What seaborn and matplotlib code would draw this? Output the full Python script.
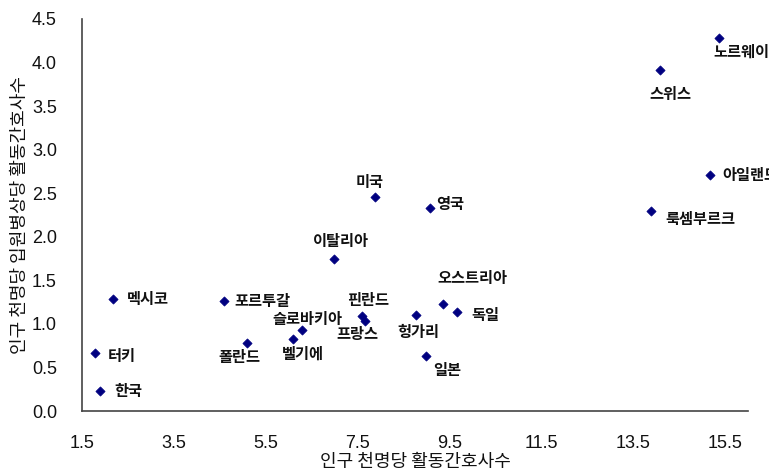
import pandas as pd
import seaborn as sns
import matplotlib.pyplot as plt

# --- data ---
countries = ['노르웨이', '스위스', '아일랜드', '룩셈부르크', '미국', '영국', '이탈리아',
             '오스트리아', '독일', '헝가리', '핀란드', '프랑스', '일본', '슬로바키아',
             '벨기에', '멕시코', '포르투갈', '폴란드', '터키', '한국']
nurses_per_1000 = [15.37, 14.09, 15.17, 13.89, 7.87, 9.07, 6.98,
                   9.37, 9.67, 8.78, 7.59, 7.67, 8.98, 6.30,
                   6.09, 2.17, 4.59, 5.09, 1.78, 1.89]
nurses_per_bed = [4.28, 3.91, 2.71, 2.29, 2.46, 2.33, 1.75,
                  1.23, 1.14, 1.10, 1.09, 1.03, 0.63, 0.93,
                  0.83, 1.29, 1.26, 0.78, 0.67, 0.23]
x_ticks = [1.5, 3.5, 5.5, 7.5, 9.5, 11.5, 13.5, 15.5]
y_ticks = [0.0, 0.5, 1.0, 1.5, 2.0, 2.5, 3.0, 3.5, 4.0, 4.5]

# label offsets (pixels, left edge of text relative to point, y down)
label_offsets = {
    '노르웨이': (-6, 14), '스위스': (-11, 24), '아일랜드': (12, 0), '룩셈부르크': (14, 8),
    '미국': (-19, -15), '영국': (6, -4), '이탈리아': (-21, -18), '오스트리아': (-6, -26),
    '독일': (14, 3), '헝가리': (-19, 17), '핀란드': (-15, -16), '프랑스': (-29, 13),
    '일본': (8, 14), '슬로바키아': (-30, -11), '벨기에': (-11, 15), '멕시코': (14, 0),
    '포르투갈': (10, 0), '폴란드': (-28, 14), '터키': (13, 3), '한국': (14, 0),
}

df = pd.DataFrame({'country': countries, 'x': nurses_per_1000, 'y': nurses_per_bed})

sns.set_style('white')
plt.rcParams['font.family'] = ['Liberation Sans', 'Noto Sans CJK KR', 'DejaVu Sans']

fig = plt.figure(figsize=(7.69, 4.73), dpi=100)
ax = fig.add_axes([0.1066, 0.131, 0.8661, 0.829])

sns.scatterplot(data=df, x='x', y='y', marker='D', s=22, color='#000080',
                edgecolor='#000080', linewidth=0.5, ax=ax, zorder=3)

for _, row in df.iterrows():
    dx, dy = label_offsets[row['country']]
    ax.annotate(row['country'], (row['x'], row['y']), xytext=(dx, -dy),
                textcoords='offset pixels', ha='left', va='center',
                fontsize=11, fontweight='bold', family='Noto Sans CJK KR',
                color='#111111', annotation_clip=False)

ax.set_xlim(1.5, 16.0)
ax.set_ylim(0, 4.5)
ax.set_xticks(x_ticks)
ax.set_yticks(y_ticks)
ax.set_xticklabels([f'{v:.1f}' for v in x_ticks])
ax.set_yticklabels([f'{v:.1f}' for v in y_ticks])
ax.tick_params(direction='in', length=4, width=1, colors='#444444',
               labelcolor='#111111', labelsize=13)
ax.tick_params(axis='x', pad=17)
ax.tick_params(axis='y', pad=18)

for side in ['top', 'right']:
    ax.spines[side].set_visible(False)
for side in ['left', 'bottom']:
    ax.spines[side].set_color('#444444')
    ax.spines[side].set_linewidth(1.2)

ax.set_xlabel('인구 천명당 활동간호사수', fontsize=13, family='Noto Sans CJK KR',
              labelpad=1, color='#111111')
ax.set_ylabel('인구 천명당 입원병상당 활동간호사수', fontsize=13, family='Noto Sans CJK KR',
              labelpad=2, color='#111111')

fig.savefig('out.png', dpi=100)
plt.close(fig)
